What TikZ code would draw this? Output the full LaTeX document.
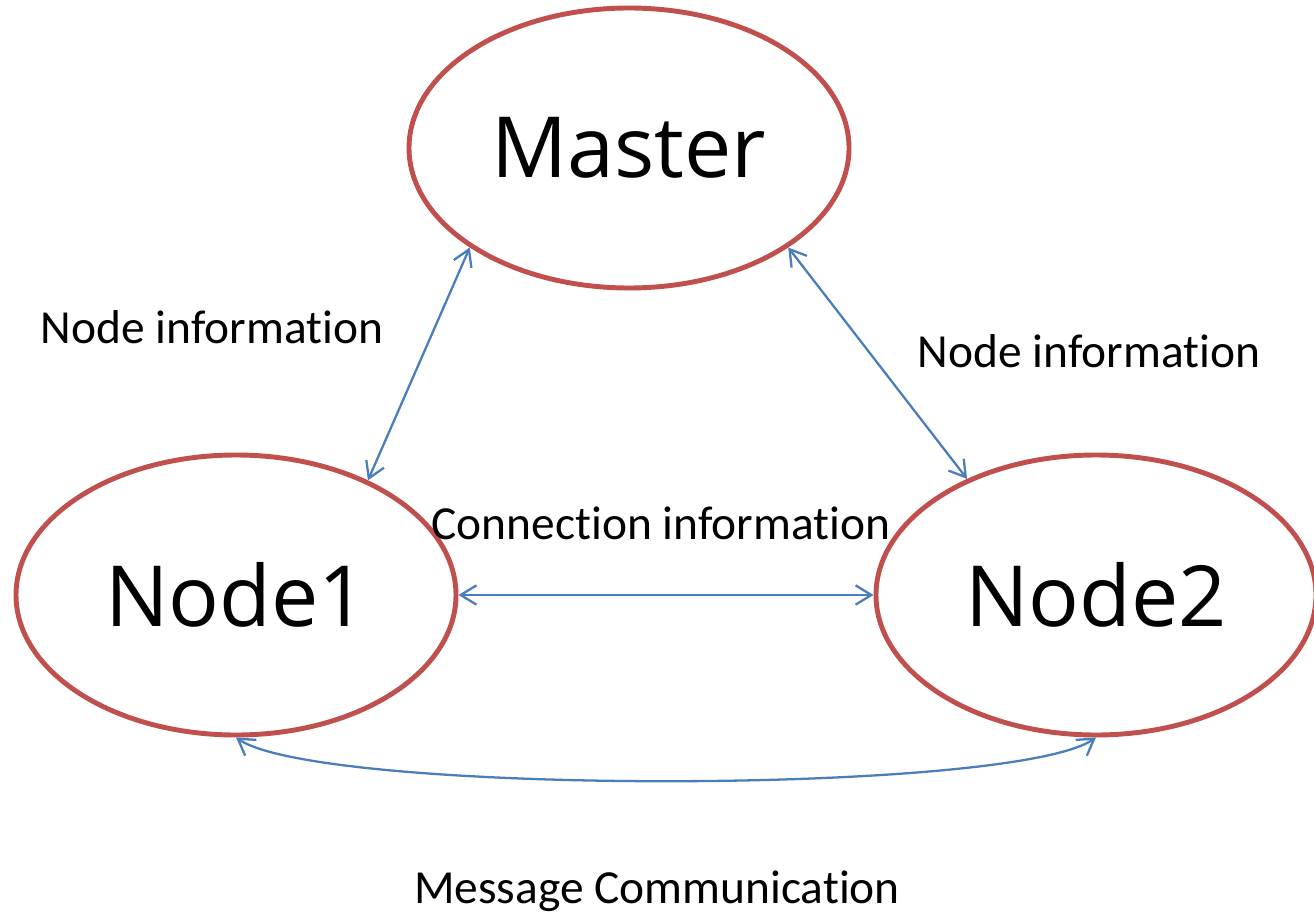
\documentclass[tikz,border=0pt]{standalone}
\usepackage{fontspec}
\setmainfont{Carlito}[RawFeature={-liga;-clig;-calt;-dlig}]
\newfontfamily\bigfont{Open Sans}
\usepackage{xcolor}
\definecolor{ringred}{RGB}{192,80,77}
\definecolor{linkblue}{RGB}{74,126,187}
\usetikzlibrary{shapes.geometric,arrows.meta}

\tikzset{
  ring/.style={ellipse,draw=ringred,line width=2.8pt,minimum width=8.8cm,minimum height=5.6cm,
    inner sep=0pt,font=\bigfont\fontsize{48}{57}\selectfont},
  link/.style={draw=linkblue,line width=1.3pt,{Straight Barb[length=9pt,width=11pt]}-{Straight Barb[length=9pt,width=11pt]}},
  tag/.style={font=\fontsize{27}{32}\selectfont,inner sep=0pt}
}

\begin{document}
\begin{tikzpicture}
            \useasboundingbox (0,0) rectangle (26.28,18.32);
            \node[ring] (master) at (12.58,15.36) {Master};
            \node[ring] (node1) at (4.72,6.42) {Node1};
            \node[ring] (node2) at (21.92,6.42) {Node2};
            \draw[link] (master.212.8) -- (node1.41);
            \draw[link] (master.328.3) -- (node2.138.8);
            \draw[link] (node1.east) -- (node2.west);
            \draw[link] (node1.south) to[out=-35,in=-145,looseness=0.3] (node2.south);
            \node[tag] (info1) at (4.24,11.78) {Node information};
            \node[tag] (info2) at (21.78,11.30) {Node information};
            \node[tag] (conn) at (13.22,7.86) {Connection information};
            \node[tag] (msg) at (13.14,0.50) {Message Communication};
        \end{tikzpicture}
\end{document}
